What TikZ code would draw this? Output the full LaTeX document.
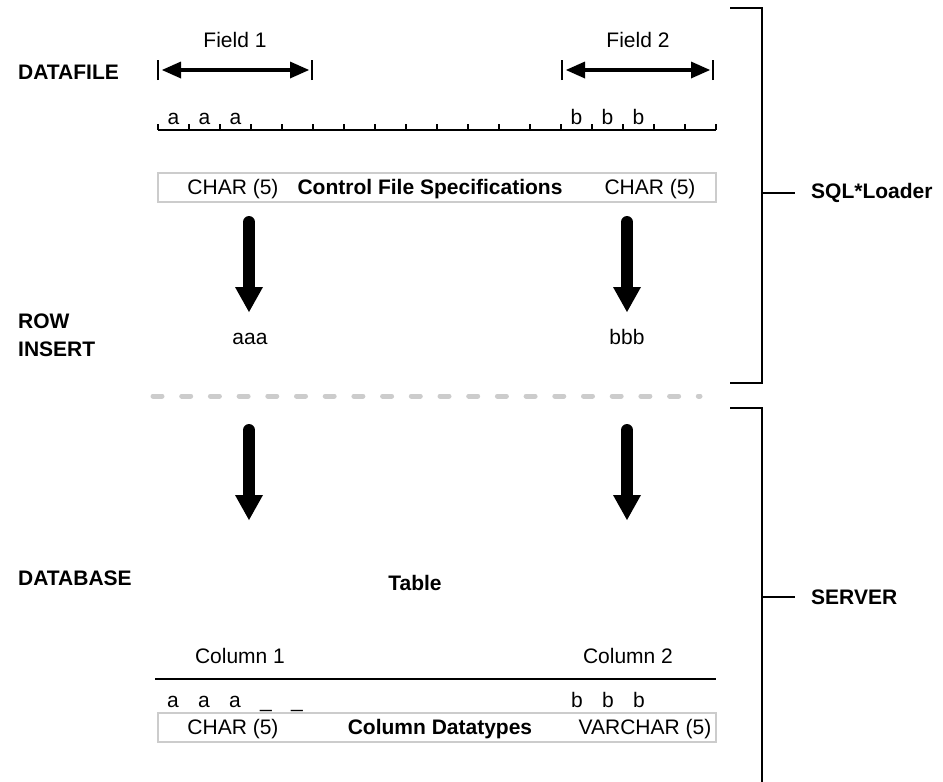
\documentclass[tikz,border=0pt]{standalone}
\usepackage{fontspec}
\setmainfont{Liberation Sans}
\usepackage{tikz}
\usetikzlibrary{arrows.meta,positioning,calc}
\definecolor{Line}{HTML}{000000}
\definecolor{Frame}{HTML}{CCCCCC}
\begin{document}
\begin{tikzpicture}[x=1pt,y=-1pt,
 every node/.style={font=\fontsize{21}{28}\selectfont,inner sep=0pt,text=Line},
 lbl/.style={font=\fontsize{21}{28}\selectfont\bfseries,anchor=west,align=left},
 hd/.style={font=\fontsize{21}{28}\selectfont\bfseries,anchor=base},
 t/.style={anchor=base},
 spec/.style={draw=Frame,line width=2pt,minimum width=558pt,minimum height=29pt},
 bar/.style={draw=Line,line width=1.2pt},
 span/.style={{Triangle[length=19pt,width=17pt,line width=0pt]}-{Triangle[length=19pt,width=17pt,line width=0pt]},line width=3.5pt,draw=Line,shorten <=4pt,shorten >=3pt},
 flow/.style={-{Triangle[length=25pt,width=28pt,line width=0pt]},line width=12pt,line cap=round,draw=Line},
 brace/.style={draw=Line,line width=2pt},
 sep/.style={draw=Frame,line width=5pt,line cap=round,dash pattern=on 9pt off 19.7pt}
]
\useasboundingbox (0,0) rectangle (943,782);
% datafile
\node[lbl] (df) at (18,72) {DATAFILE};
\node[t] (f1) at (235,47) {Field 1};
\node[t] (f2) at (638,47) {Field 2};
\coordinate (f1a) at (158,70); \coordinate (f1b) at (312,70);
\coordinate (f2a) at (562,70); \coordinate (f2b) at (713,70);
\foreach \p in {f1a,f1b,f2a,f2b} \draw[bar] ([yshift=-10pt]\p) -- ([yshift=10pt]\p);
\draw[span] (f1a) -- (f1b);
\draw[span] (f2a) -- (f2b);
\coordinate (r0) at (158,130); \coordinate (r1) at (716,130);
\draw[bar] (r0) -- (r1);
\foreach \k in {0,...,18} \draw[bar] (158+31*\k,130) -- (158+31*\k,123.5);
\foreach \k/\c in {0/a,1/a,2/a,13/b,14/b,15/b} \node[t] (cell\k) at (173.5+31*\k,124) {\c};
\node[spec] (cfs) at (437,187) {};
\node[t] (cfa) at (233,194.5) {CHAR (5)};
\node[hd] (cfn) at (430,194.5) {Control File Specifications};
\node[t] (cfb) at (650,194.5) {CHAR (5)};
% row insert
\coordinate (p1) at (249,222); \coordinate (q1) at (249,312);
\coordinate (p2) at (627,222); \coordinate (q2) at (627,312);
\draw[flow] (p1) -- (q1);
\draw[flow] (p2) -- (q2);
\node[lbl,anchor=north west] (ri) at (18,314) {ROW\\INSERT};
\node[t] (va) at (250,344) {aaa};
\node[t] (vb) at (627,344) {bbb};
\coordinate (s0) at (153,396); \coordinate (s1) at (700,396);
\draw[sep] (s0) -- (s1);
% brackets
\draw[brace] (730,8) -- (762,8) -- (762,383) -- (730,383);
\draw[brace] (762,193) -- (795,193);
\node[lbl] (sql) at (811,193) {SQL*Loader};
\draw[brace] (730,408) -- (762,408) -- (762,782);
\draw[brace] (762,597) -- (795,597);
\node[lbl] (srv) at (811,597) {SERVER};
% database
\coordinate (p3) at (249,430); \coordinate (q3) at (249,520);
\coordinate (p4) at (627,430); \coordinate (q4) at (627,520);
\draw[flow] (p3) -- (q3);
\draw[flow] (p4) -- (q4);
\node[lbl] (db) at (18,578) {DATABASE};
\node[hd] (tb) at (415,590) {Table};
\node[t] (c1) at (240,663) {Column 1};
\node[t] (c2) at (628,663) {Column 2};
\coordinate (l0) at (155,679); \coordinate (l1) at (716,679);
\draw[bar] (l0) -- (l1);
\foreach \x/\c in {173/a,204/a,235/a,266/\_,297/\_,577/b,608/b,639/b} \node[t] (v\x) at (\x,707) {\c};
\node[spec] (cdt) at (437,727) {};
\node[t] (cda) at (233,734.5) {CHAR (5)};
\node[hd] (cdn) at (440,734.5) {Column Datatypes};
\node[t] (cdb) at (645,734.5) {VARCHAR (5)};
\end{tikzpicture}
\end{document}
